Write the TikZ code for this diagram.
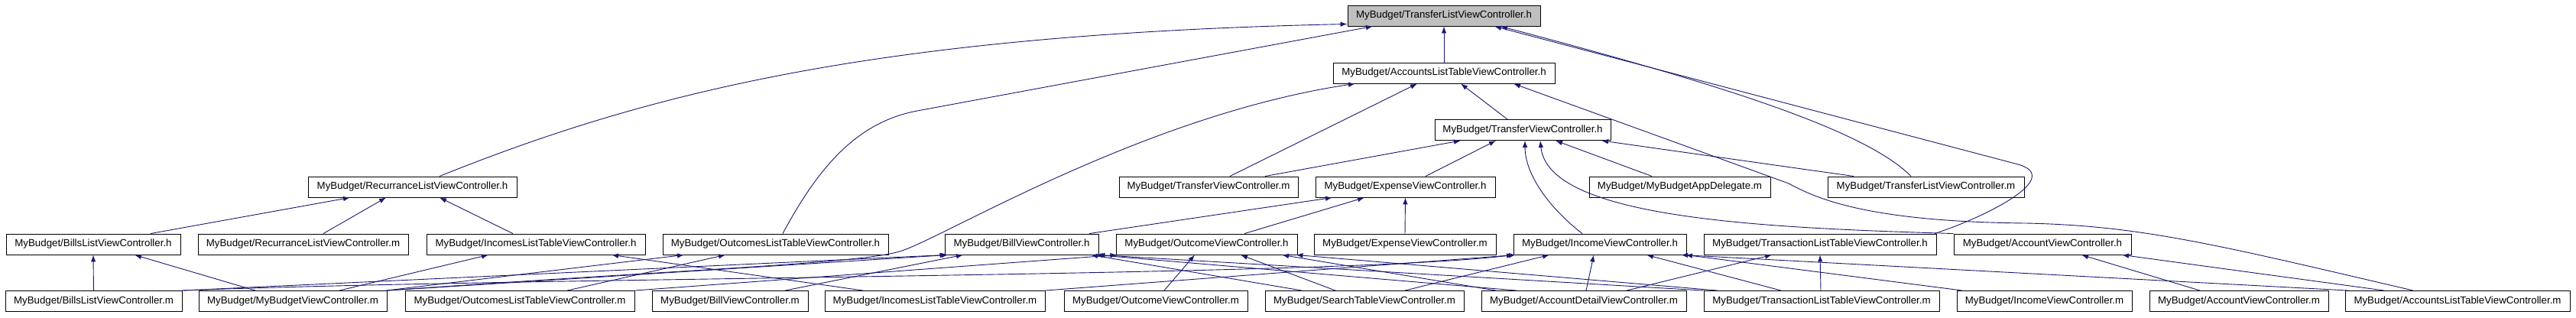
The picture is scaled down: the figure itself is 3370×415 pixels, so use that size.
\documentclass[tikz,border=0pt]{standalone}
\usepackage{fontspec}
\setmainfont{Liberation Sans}
\usetikzlibrary{arrows.meta}
\definecolor{edgeblue}{RGB}{25,25,112}
\definecolor{rootgray}{RGB}{191,191,191}
\tikzset{
  box/.style={draw=black, line width=0.9pt, fill=white, inner sep=0pt, minimum height=27pt,
              font=\fontsize{13.3}{16}\selectfont, text=black},
  rootbox/.style={box, fill=rootgray},
  edge/.style={draw=edgeblue, line width=0.9pt, -{Latex[length=9pt,width=6.5pt]}},
}
\begin{document}
\begin{tikzpicture}[x=1pt,y=-1pt]
\useasboundingbox (0,0) rectangle (3370,415);
% row 0
\node[rootbox, minimum width=252] (T) at (1889,20.5) {MyBudget/TransferListViewController.h};
% row 1
\node[box, minimum width=290] (ALh) at (1889,95.5) {MyBudget/AccountsListTableViewController.h};
% row 2
\node[box, minimum width=230] (TVh) at (1992,170) {MyBudget/TransferViewController.h};
% row 3
\node[box, minimum width=273] (RLh) at (539.5,244.5) {MyBudget/RecurranceListViewController.h};
\node[box, minimum width=234] (TVm) at (1581,244.5) {MyBudget/TransferViewController.m};
\node[box, minimum width=235] (EVh) at (1838.5,244.5) {MyBudget/ExpenseViewController.h};
\node[box, minimum width=237] (ADm) at (2197.5,244.5) {MyBudget/MyBudgetAppDelegate.m};
\node[box, minimum width=257] (TLm) at (2519.5,244.5) {MyBudget/TransferListViewController.m};
% row 4
\node[box, minimum width=228] (BLh) at (122,319.5) {MyBudget/BillsListViewController.h};
\node[box, minimum width=275] (RLm) at (396.5,319.5) {MyBudget/RecurranceListViewController.m};
\node[box, minimum width=286] (ILh) at (701,319.5) {MyBudget/IncomesListTableViewController.h};
\node[box, minimum width=295] (OLh) at (1014.5,319.5) {MyBudget/OutcomesListTableViewController.h};
\node[box, minimum width=201] (BVh) at (1336.5,319.5) {MyBudget/BillViewController.h};
\node[box, minimum width=237] (OVh) at (1578.5,319.5) {MyBudget/OutcomeViewController.h};
\node[box, minimum width=238] (EVm) at (1838,319.5) {MyBudget/ExpenseViewController.m};
\node[box, minimum width=226] (IVh) at (2093,319.5) {MyBudget/IncomeViewController.h};
\node[box, minimum width=304] (TTh) at (2381,319.5) {MyBudget/TransactionListTableViewController.h};
\node[box, minimum width=232] (AVh) at (2672,319.5) {MyBudget/AccountViewController.h};
% row 5
\node[box, minimum width=231] (BLm) at (122.5,394) {MyBudget/BillsListViewController.m};
\node[box, minimum width=246] (MVm) at (383,394) {MyBudget/MyBudgetViewController.m};
\node[box, minimum width=300] (OLm) at (680,394) {MyBudget/OutcomesListTableViewController.m};
\node[box, minimum width=204] (BVm) at (955,394) {MyBudget/BillViewController.m};
\node[box, minimum width=288] (ILm) at (1223,394) {MyBudget/IncomesListTableViewController.m};
\node[box, minimum width=240] (OVm) at (1512,394) {MyBudget/OutcomeViewController.m};
\node[box, minimum width=260] (STm) at (1785,394) {MyBudget/SearchTableViewController.m};
\node[box, minimum width=268] (ADVm) at (2072,394) {MyBudget/AccountDetailViewController.m};
\node[box, minimum width=308] (TTm) at (2383,394) {MyBudget/TransactionListTableViewController.m};
\node[box, minimum width=229] (IVm) at (2674.5,394) {MyBudget/IncomeViewController.m};
\node[box, minimum width=234] (AVm) at (2929,394) {MyBudget/AccountViewController.m};
\node[box, minimum width=294] (ALm) at (3215,394) {MyBudget/AccountsListTableViewController.m};

% edges into T
\draw[edge] (ALh.north) -- (T.south);
\draw[edge] ([xshift=35.5pt]RLh.north) .. controls (850,120) and (1150,45) .. ([yshift=3pt]T.south west);
\draw[edge] ([xshift=9.5pt]OLh.north) .. controls (1070,220) and (1120,160) .. (1200,145) -- ([xshift=-93pt]T.south);
\draw[edge] ([xshift=-19.5pt]TLm.north) .. controls (2440,170) and (2250,110) .. ([xshift=74pt]T.south);
\draw[edge] ([xshift=150pt]TTh.north) .. controls (2600,283) and (2700,232) .. (2640,215) -- ([xshift=66pt]T.south);
% edges into ALh
\draw[edge] ([xshift=-20pt]TVh.north) -- ([xshift=22pt]ALh.south);
\draw[edge] ([xshift=28pt]TVm.north) -- ([xshift=-35pt]ALh.south);
\draw[edge] (MVm.north east) .. controls (900,352) and (1130,345) .. (1180,328) .. controls (1240,307.6) and (1500,150) .. ([xshift=-116pt]ALh.south);
\draw[edge] ([xshift=-58pt]ALm.north) .. controls (2900,320) and (2800,295) .. (2650,292) .. controls (2450,290) and (2380,262) .. (2340,240) -- ([xshift=91pt]ALh.south);
% edges into TVh
\draw[edge] ([xshift=74pt]TVm.north) -- ([xshift=-81pt]TVh.south);
\draw[edge] ([xshift=26.5pt]EVh.north) -- ([xshift=-35pt]TVh.south);
\draw[edge] ([xshift=-36.5pt]ADm.north) -- ([xshift=43pt]TVh.south);
\draw[edge] ([xshift=-94.5pt]TLm.north) -- ([xshift=103pt]TVh.south);
\draw[edge] ([xshift=-23pt]IVh.north) .. controls (2030,275) and (1995,230) .. ([xshift=3pt]TVh.south);
\draw[edge] (AVh.north west) .. controls (2300,298) and (2025,285) .. ([xshift=23pt]TVh.south);
% edges into EVh
\draw[edge] ([xshift=88.5pt]BVh.north) -- ([xshift=-95.5pt]EVh.south);
\draw[edge] ([xshift=49.5pt]OVh.north) -- ([xshift=-53.5pt]EVh.south);
\draw[edge] (EVm.north) -- (EVh.south);
% edges into RLh
\draw[edge] ([xshift=75pt]BLh.north) -- ([xshift=-81.5pt]RLh.south);
\draw[edge] ([xshift=26.5pt]RLm.north) -- ([xshift=-34.5pt]RLh.south);
\draw[edge] ([xshift=-30pt]ILh.north) -- ([xshift=35.5pt]RLh.south);
% edges into BLh, ILh, OLh
\draw[edge] (BLm.north) -- (BLh.south);
\draw[edge] ([xshift=-49pt]MVm.north) -- ([xshift=54pt]BLh.south);
\draw[edge] ([xshift=61pt]MVm.north) -- ([xshift=-62pt]ILh.south);
\draw[edge] ([xshift=-94pt]ILm.north) -- ([xshift=99pt]ILh.south);
\draw[edge] ([xshift=122pt]MVm.north) -- ([xshift=-119.5pt]OLh.south);
\draw[edge] ([xshift=62pt]OLm.north) -- ([xshift=-65.5pt]OLh.south);
% edges into BVh
\draw[edge] (BLm.north east) -- ([xshift=-98pt]BVh.south);
\draw[edge] (MVm.north east) -- ([xshift=-96pt]BVh.south);
\draw[edge] ([xshift=72pt]BVm.north) -- ([xshift=-76.5pt]BVh.south);
\draw[edge] ([xshift=-82pt]STm.north) -- ([xshift=90.5pt]BVh.south);
\draw[edge] ([xshift=-88pt]ADVm.north) -- ([xshift=97pt]BVh.south);
\draw[edge] (TTm.north west) -- ([xshift=100pt]BVh.south);
% edges into OVh
\draw[edge] (OLm.north east) -- ([xshift=-117pt]OVh.south);
\draw[edge] ([xshift=11pt]OVm.north) -- ([xshift=-15.5pt]OVh.south);
\draw[edge] ([xshift=-38pt]STm.north) -- ([xshift=44.5pt]OVh.south);
\draw[edge] ([xshift=-115pt]ADVm.north) -- ([xshift=98.5pt]OVh.south);
\draw[edge] ([xshift=-136pt]TTm.north) -- ([xshift=117pt]OVh.south);
% edges into IVh
\draw[edge] (BLm.north east) .. controls (700,362) and (1750,362) .. ([xshift=-113pt]IVh.south);
\draw[edge] (ILm.north east) -- ([xshift=-110pt]IVh.south);
\draw[edge] ([xshift=53pt]STm.north) -- ([xshift=-66pt]IVh.south);
\draw[edge] ([xshift=3pt]ADVm.north) -- ([xshift=-8pt]IVh.south);
\draw[edge] ([xshift=-53pt]TTm.north) -- ([xshift=61pt]IVh.south);
\draw[edge] ([xshift=-107.5pt]IVm.north) -- ([xshift=112pt]IVh.south);
\draw[edge] ([xshift=-143pt]ALm.north) -- ([xshift=106pt]IVh.south);
% edges into TTh
\draw[edge] ([xshift=56pt]ADVm.north) -- ([xshift=-63pt]TTh.south);
\draw[edge] ([xshift=-1pt]TTm.north) -- (TTh.south);
% edges into AVh
\draw[edge] ([xshift=-51pt]AVm.north) -- ([xshift=51pt]AVh.south);
\draw[edge] ([xshift=-96pt]ALm.north) -- ([xshift=104pt]AVh.south);
\end{tikzpicture}
\end{document}
